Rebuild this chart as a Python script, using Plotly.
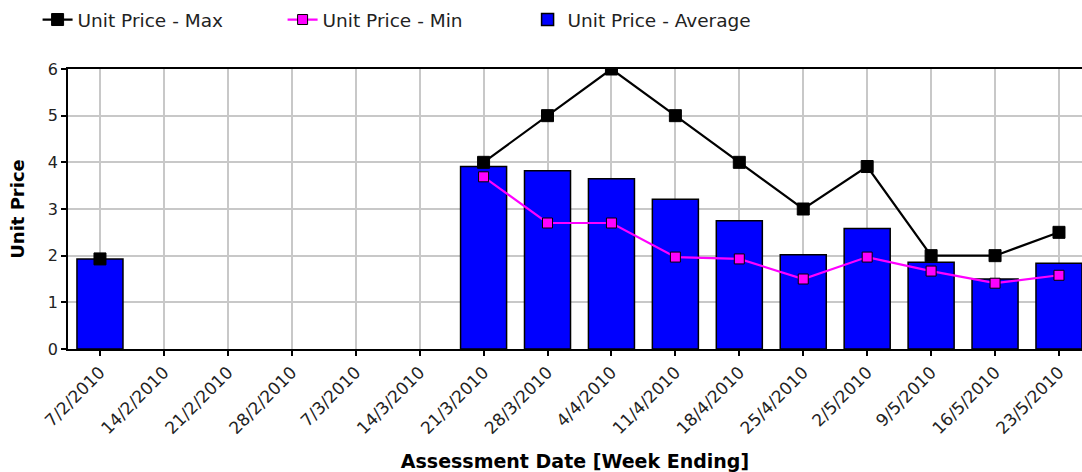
import plotly.graph_objects as go

weeks = ["7/2/2010", "14/2/2010", "21/2/2010", "28/2/2010", "7/3/2010", "14/3/2010",
         "21/3/2010", "28/3/2010", "4/4/2010", "11/4/2010", "18/4/2010", "25/4/2010",
         "2/5/2010", "9/5/2010", "16/5/2010", "23/5/2010"]
price_avg = [1.93, None, None, None, None, None, 3.91, 3.82, 3.65, 3.21, 2.75, 2.02, 2.58, 1.86, 1.5, 1.84]
price_max = [1.93, None, None, None, None, None, 4.0, 5.0, 6.0, 5.0, 4.0, 3.0, 3.91, 2.0, 2.0, 2.5]
price_min = [None, None, None, None, None, None, 3.69, 2.7, 2.7, 1.97, 1.93, 1.5, 1.97, 1.67, 1.41, 1.58]
y_ticks = [0, 1, 2, 3, 4, 5, 6]

FONT = "DejaVu Sans, Verdana, sans-serif"

fig = go.Figure()
fig.add_trace(go.Bar(
    x=weeks, y=price_avg, name="Unit Price - Average",
    marker=dict(color="#0000FF", line=dict(color="#000000", width=1.5)),
    width=0.72, legendrank=3,
))
fig.add_trace(go.Scatter(
    x=weeks, y=price_max, name="Unit Price - Max", mode="lines+markers",
    line=dict(color="#000000", width=2.2),
    marker=dict(symbol="square", size=12, color="#000000", line=dict(color="#000000", width=1)),
    connectgaps=False, legendrank=1,
))
fig.add_trace(go.Scatter(
    x=weeks, y=price_min, name="Unit Price - Min", mode="lines+markers",
    line=dict(color="#FF00FF", width=2.2),
    marker=dict(symbol="square", size=10, color="#FF00FF", line=dict(color="#000000", width=1)),
    connectgaps=False, legendrank=2,
))

fig.update_layout(
    width=1082, height=472,
    margin=dict(l=68, r=0, t=69, b=123, autoexpand=False),
    paper_bgcolor="#FFFFFF", plot_bgcolor="#FFFFFF",
    font=dict(family=FONT, size=14, color="#222222"),
    showlegend=True,
    legend=dict(
        orientation="h", x=-0.030, y=1.175, xanchor="left", yanchor="middle",
        traceorder="normal", bgcolor="rgba(0,0,0,0)",
        font=dict(family=FONT, size=18.5, color="#222222"),
        entrywidth=200, entrywidthmode="pixels",
    ),
    xaxis=dict(
        type="category", range=[-0.5, 15.36],
        showline=True, linecolor="#000000", linewidth=1.5, mirror=True,
        showgrid=True, gridcolor="#C8C8C8", gridwidth=1.5,
        ticks="outside", ticklen=5, tickcolor="#000000", tickwidth=1.5,
        tickangle=-45, tickfont=dict(family=FONT, size=17, color="#222222"),
        title=dict(text="<b>Assessment Date [Week Ending]</b>", font=dict(family=FONT, size=19, color="#000000"), standoff=27),
        zeroline=False,
    ),
    yaxis=dict(
        range=[0, 6], tickvals=y_ticks,
        showline=True, linecolor="#000000", linewidth=1.5, mirror=False,
        showgrid=True, gridcolor="#C8C8C8", gridwidth=1.5,
        ticks="outside", ticklen=5, tickcolor="#000000", tickwidth=1.5,
        tickfont=dict(family=FONT, size=16, color="#222222"),
        title=dict(text="<b>Unit Price</b>", font=dict(family=FONT, size=18, color="#000000"), standoff=19),
        zeroline=False,
    ),
)

# remove the page's default body margin so the figure fills the window exactly
fig.write_html(
    "out.html",
    config={"displayModeBar": False},
    post_script="document.body.style.margin='0';document.body.style.overflow='hidden';",
)
